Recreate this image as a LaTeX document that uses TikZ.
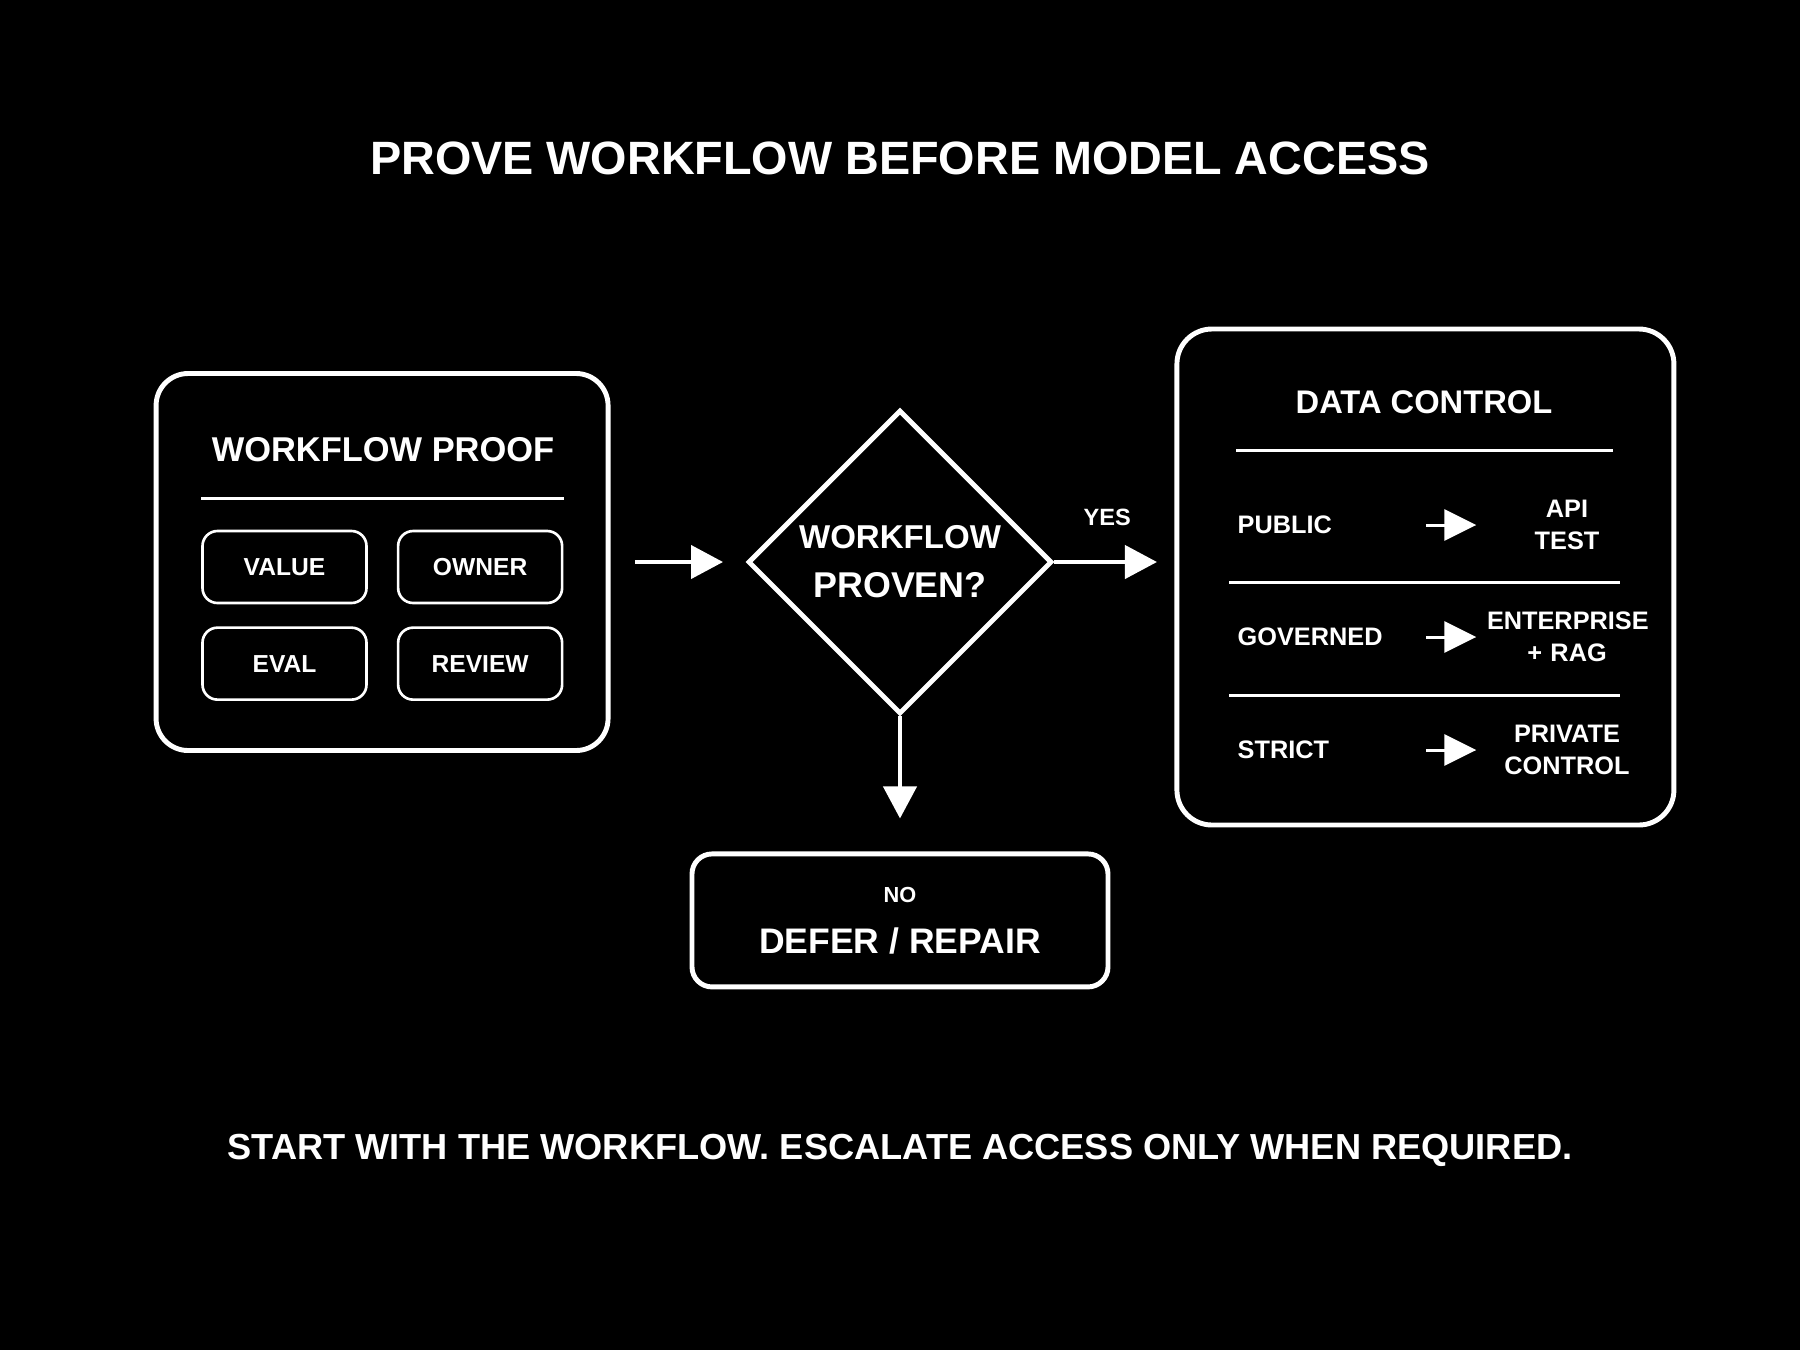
\documentclass[tikz,border=0pt]{standalone}
\usepackage{fontspec}
\setmainfont{Liberation Sans}
\usepackage{tikz}
\usetikzlibrary{shapes.geometric, arrows.meta, positioning, calc}
\tikzstyle{arrow} = [line width=1.2pt, -{Triangle[length=0.32cm, width=0.33cm]}]
\tikzstyle{tierarrow} = [line width=0.85pt, -{Triangle[length=0.32cm, width=0.31cm]}]
\tikzstyle{panel} = [draw, rectangle, line width=1.4pt, rounded corners=0.32cm]
\tikzstyle{chip} = [draw, rectangle, line width=0.75pt, rounded corners=0.15cm, minimum width=1.64cm, minimum height=0.72cm, font=\fontsize{7}{8.4}\selectfont\bfseries]
\tikzstyle{divider} = [line width=0.85pt]
\tikzstyle{tier} = [anchor=west, text width=1.78cm, inner sep=0.1cm, align=left]
\tikzstyle{result} = [text width=1.6cm, inner sep=0.1cm, align=center]

\begin{document}
\begin{tikzpicture}[white, every node/.style={font=\fontsize{7.2}{9.1}\selectfont\bfseries}, align=center]
% Canvas
\fill [black] (0,0) rectangle (18,-13.5);
\useasboundingbox (0,0) rectangle (18,-13.5);

\node (title) at (9,-1.58) [font=\fontsize{13.3}{16}\selectfont\bfseries] {PROVE WORKFLOW BEFORE MODEL ACCESS};

% Decision
\node (check) at (9,-5.62) [draw, diamond, line width=1.4pt, minimum width=3.04cm, minimum height=3.04cm, inner sep=0pt, font=\fontsize{10.2}{13.9}\selectfont\bfseries] {{\fontsize{9.4}{13.9}\selectfont WORKFLOW}\\PROVEN?};

% Panels
\node (proof) [panel, minimum width=4.52cm, minimum height=3.77cm, left=1.35cm of check] {};
\node (data) [panel, rounded corners=0.35cm, minimum width=4.97cm, minimum height=4.96cm, right=1.2cm of check, yshift=-0.15cm] {};
\node (defer) [panel, rounded corners=0.2cm, minimum width=4.16cm, minimum height=1.33cm, below=1.35cm of check, font=\fontsize{10.1}{14.5}\selectfont\bfseries] {{\fontsize{6.2}{14.5}\selectfont NO}\\DEFER / REPAIR};

% Workflow proof
\node (prooftitle) at (3.83,-4.50) [font=\fontsize{9.8}{12}\selectfont\bfseries] {WORKFLOW PROOF};
\draw [divider] (2.01,-4.98) -- (5.64,-4.98);
\node (value) at (2.845,-5.67) [chip] {VALUE};
\node (owner) [chip, right=0.29cm of value] {OWNER};
\node (eval) [chip, below=0.22cm of value] {EVAL};
\node (review) [chip, right=0.29cm of eval] {REVIEW};

% Data control
\node (datatitle) at (14.24,-4.02) [font=\fontsize{9.3}{12}\selectfont\bfseries] {DATA CONTROL};
\draw [divider] (12.36,-4.50) -- (16.13,-4.50);
\draw [divider] (12.29,-5.82) -- (16.20,-5.82);
\draw [divider] (12.29,-6.95) -- (16.20,-6.95);

\node (lvlpub) at (12.27,-5.25) [tier] {PUBLIC};
\node (respub) at (15.67,-5.25) [result] {API\\TEST};
\node (lvlgov) at (12.27,-6.37) [tier] {GOVERNED};
\node (resgov) at (15.67,-6.37) [result] {ENTERPRISE\\+ RAG};
\node (lvlstr) at (12.27,-7.50) [tier] {STRICT};
\node (resstr) at (15.67,-7.50) [result] {PRIVATE\\CONTROL};

\draw [tierarrow] (lvlpub) -- (respub);
\draw [tierarrow] (lvlgov) -- (resgov);
\draw [tierarrow] (lvlstr) -- (resstr);

% Flow
\draw [arrow, shorten <=0.245cm, shorten >=0.225cm] (proof) -- (check);
\draw [arrow, shorten >=0.175cm] (check.east) -- node[pos=0.44, above=0.22cm, font=\fontsize{6.7}{8}\selectfont\bfseries] (yes) {YES} (check.east -| data.west);
\draw [arrow, shorten >=0.33cm] (check) -- (defer);

\node (footer) at (9,-11.50) [font=\fontsize{10.3}{12}\selectfont\bfseries] {START WITH THE WORKFLOW. ESCALATE ACCESS ONLY WHEN REQUIRED.};
\end{tikzpicture}
\end{document}
